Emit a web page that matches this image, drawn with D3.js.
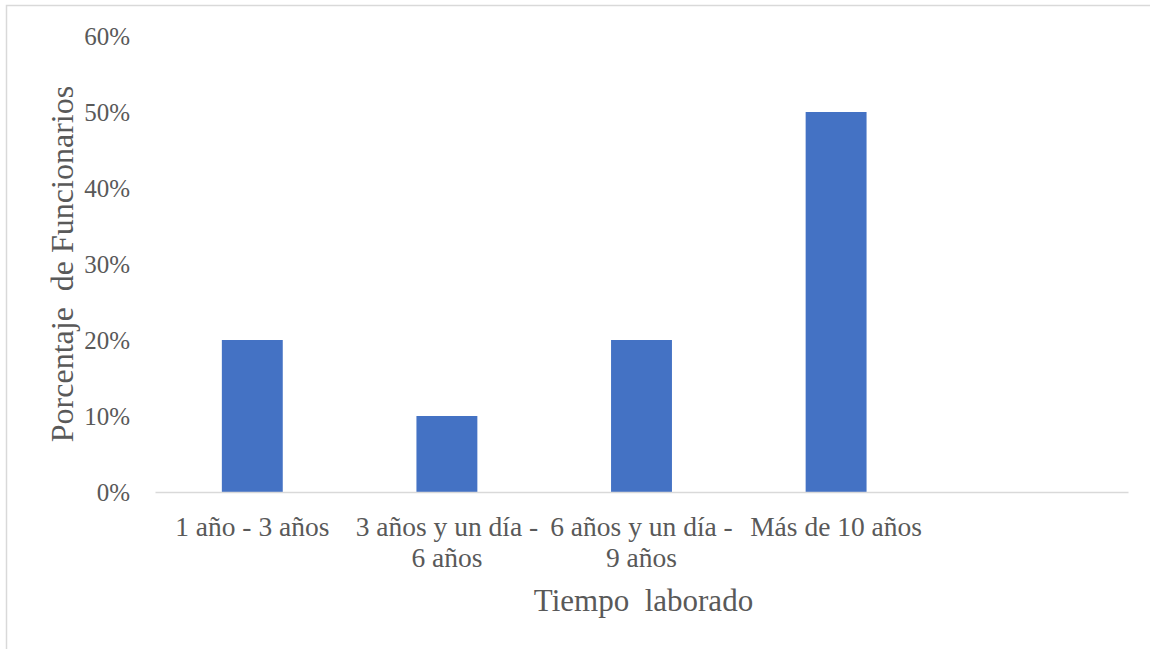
<!DOCTYPE html>
<html><head><meta charset="utf-8">
<script src="https://cdn.jsdelivr.net/npm/d3@7"></script>
<style>body{margin:0;background:#fff;}svg{display:block;} text{white-space:pre;}</style>
</head><body>
<svg id="c" width="1150" height="649"></svg>
<script>
const categories = ["1 año - 3 años", "3 años y un día - 6 años", "6 años y un día - 9 años", "Más de 10 años", ""];
const values = [0.20, 0.10, 0.20, 0.50, null];
const yTicks = [0, 0.1, 0.2, 0.3, 0.4, 0.5, 0.6];
const xTitle = "Tiempo  laborado";
const yTitle = "Porcentaje  de Funcionarios";

const svg = d3.select("#c");
const font = "'Liberation Serif','Times New Roman',serif";
const textColor = "#595959";

svg.append("rect").attr("x", 6.5).attr("y", 5.5).attr("width", 1160).attr("height", 660)
  .attr("fill", "#fff").attr("stroke", "#d9d9d9").attr("stroke-width", 1.5);

const mL = 155, mR = 1128, mT = 36, mB = 492;
const x = d3.scaleBand().domain(categories.map((d, i) => i)).range([mL, mR]).padding(0);
const y = d3.scaleLinear().domain([0, 0.6]).range([mB, mT]);

// y tick labels
const yAxis = d3.axisLeft(y).tickValues(yTicks).tickFormat(d3.format(".0%")).tickSize(0).tickPadding(0);
const gy = svg.append("g").attr("transform", "translate(130,0)").call(yAxis);
gy.select(".domain").remove();
gy.selectAll("text").attr("font-family", font).attr("font-size", 25).attr("fill", textColor).attr("dy", "0.35em");

// bars
const barW = x.bandwidth() * 0.313;
svg.append("g").selectAll("rect").data(values.map((v, i) => ({v, i})).filter(d => d.v != null)).join("rect")
  .attr("x", d => x(d.i) + x.bandwidth() / 2 - barW / 2)
  .attr("width", barW)
  .attr("y", d => y(d.v))
  .attr("height", d => y(0) - y(d.v))
  .attr("fill", "#4472c4");

// x axis line
const xAxis = d3.axisBottom(x).tickSize(0).tickFormat("");
const gx = svg.append("g").attr("transform", `translate(0,${mB})`).call(xAxis);
gx.select(".domain").attr("stroke", "#d9d9d9").attr("stroke-width", 1.5);

// category labels with wrapping
const labG = svg.append("g");
categories.forEach((c, i) => {
  if (!c) return;
  const t = labG.append("text").attr("text-anchor", "middle").attr("font-family", font)
    .attr("font-size", 27.5).attr("fill", textColor);
  const cx = x(i) + x.bandwidth() / 2;
  const words = c.split(" ");
  let line = [], lines = [];
  const tmp = t.append("tspan");
  words.forEach(w => {
    const test = line.concat([w]).join(" ");
    tmp.text(test);
    if (tmp.node().getComputedTextLength() > x.bandwidth() && line.length) {
      lines.push(line.join(" "));
      line = [w];
    } else line.push(w);
  });
  lines.push(line.join(" "));
  tmp.remove();
  lines.forEach((l, k) => t.append("tspan").attr("x", cx).attr("y", 536 + k * 31).text(l));
});

// axis titles
svg.append("text").attr("x", (mL + mR) / 2 + 2).attr("y", 611).attr("text-anchor", "middle")
  .attr("font-family", font).attr("font-size", 31).attr("fill", textColor).text(xTitle);
svg.append("text").attr("transform", `translate(73,${(mT + mB) / 2}) rotate(-90)`)
  .attr("text-anchor", "middle").attr("font-family", font).attr("font-size", 32)
  .attr("fill", textColor).text(yTitle);
</script>
</body></html>
